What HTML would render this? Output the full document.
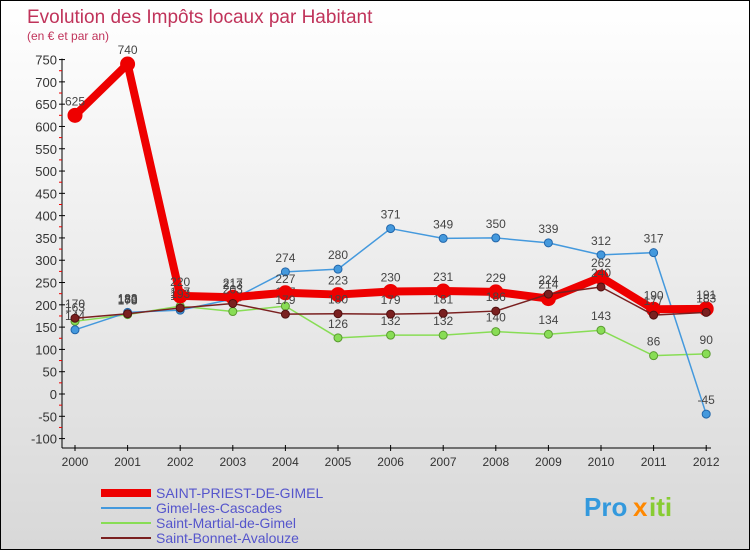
<!DOCTYPE html>
<html><head><meta charset="utf-8"><style>
body{margin:0;width:750px;height:550px;overflow:hidden;font-family:"Liberation Sans",sans-serif}
#c{position:absolute;left:0;top:0;width:748px;height:548px;border:1px solid #000;background:linear-gradient(#fff,#d8d8d8)}
</style></head><body>
<div id="c">
<svg id="s" width="748" height="548" xmlns="http://www.w3.org/2000/svg"></svg>
</div>
<script>
const years=["2000","2001","2002","2003","2004","2005","2006","2007","2008","2009","2010","2011","2012"];
const yTicks=[-100,-50,0,50,100,150,200,250,300,350,400,450,500,550,600,650,700,750];
const sp=[625,740,220,217,227,223,230,231,229,214,262,190,191];
const gimel=[144,183,188,213,274,280,371,349,350,339,312,317,-45];
const martial=[163,178,197,185,197,126,132,132,140,134,143,86,90];
const bonnet=[170,180,193,203,179,180,179,181,186,224,240,177,183];
const names=["SAINT-PRIEST-DE-GIMEL","Gimel-les-Cascades","Saint-Martial-de-Gimel","Saint-Bonnet-Avalouze"];
const NS="http://www.w3.org/2000/svg";
const s=document.getElementById('s');
const X=i=>74+i*52.6;
const Y=v=>393-v*0.4459;
function el(t,a,txt){const e=document.createElementNS(NS,t);for(const k in a)e.setAttribute(k,a[k]);if(txt!==undefined)e.textContent=txt;s.appendChild(e);return e;}
let t=el('text',{x:26,y:22,fill:'#c0335a','font-size':19},'Evolution des Impôts locaux par Habitant');

t=el('text',{x:26,y:39,fill:'#c0335a','font-size':12},'(en € et par an)');

let a=el('line',{x1:61,y1:Y(750)-1,x2:61,y2:447,stroke:'#000'});

a=el('line',{x1:61,y1:447,x2:710,y2:447,stroke:'#000'});

yTicks.forEach(v=>{
 el('line',{x1:58,x2:64,y1:Y(v),y2:Y(v),stroke:'#000'});
 if(v<750) el('line',{x1:58,x2:61,y1:Y(v+25),y2:Y(v+25),stroke:'#e00'});
 const l=el('text',{x:56,y:Y(v)+5,'text-anchor':'end','font-size':13,fill:'#333'},v);
 
});
years.forEach((y,i)=>{
 el('line',{x1:X(i),x2:X(i),y1:444,y2:450,stroke:'#000'});
 const l=el('text',{x:X(i),y:465,'text-anchor':'middle','font-size':12,fill:'#333'},y);
 
});
function series(d,col,w,r,nm,dark){
 const p=el('polyline',{points:d.map((v,i)=>X(i)+','+Y(v)).join(' '),fill:'none',stroke:col,'stroke-width':w,'stroke-linejoin':'round'});
 
 d.forEach((v,i)=>{
  const c=el('circle',{cx:X(i),cy:Y(v),r:r,fill:col,stroke:dark,'stroke-width':1});
  
  const l=el('text',{x:X(i),y:Y(v)-10,'text-anchor':'middle','font-size':12,fill:'#444'},v);
  
 });
}
series(martial,'#88dd55',1.5,4,'saint-martial','#5a9a30');
series(gimel,'#4499dd',1.5,4,'gimel','#2266aa');
series(sp,'#ee0000',8,7,'saint-priest','#ee0000');
series(bonnet,'#7a2020',1.5,4,'saint-bonnet','#501010');
const cols=['#ee0000','#4499dd','#88dd55','#7a2020'],ws=[8,2,2,2];
names.forEach((n,i)=>{
 const yy=492+i*15;
 const l=el('line',{x1:100,x2:150,y1:yy,y2:yy,stroke:cols[i],'stroke-width':ws[i]});
 
 const tx=el('text',{x:155,y:yy+5,'font-size':14,fill:'#5555cc'},n);
 
});
const lg=el('text',{x:583,y:515,'font-size':26,'font-weight':'bold',fill:'#3399dd'},'Pro');

el('text',{x:632,y:515,'font-size':26,'font-weight':'bold',fill:'#ff8800'},'x');
el('text',{x:648,y:515,'font-size':26,'font-weight':'bold',fill:'#88cc33'},'iti');
</script>
</body></html>
